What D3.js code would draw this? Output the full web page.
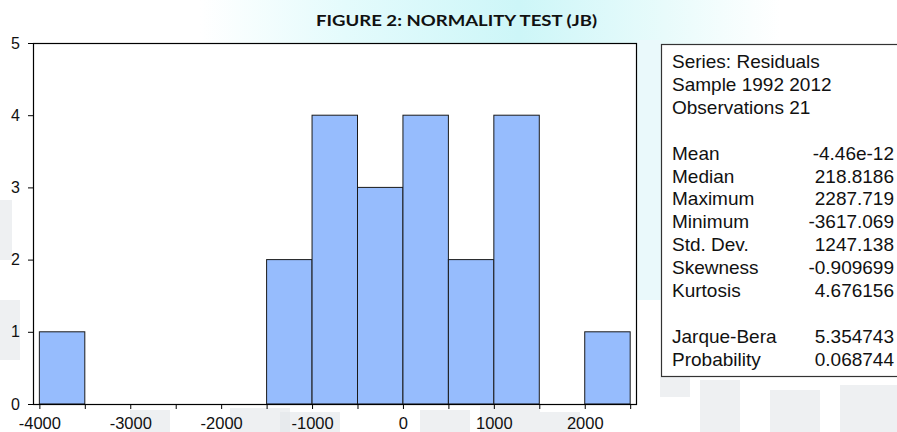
<!DOCTYPE html>
<html>
<head>
<meta charset="utf-8">
<script src="https://cdn.jsdelivr.net/npm/d3@7"></script>
<style>
  html, body { margin: 0; padding: 0; background: #ffffff; }
  svg { display: block; }
</style>
</head>
<body>
<div id="chart"></div>
<script>
// ---- data ----
const binEdges = [-4000, -3500, -3000, -2500, -2000, -1500, -1000, -500, 0, 500, 1000, 1500, 2000, 2500];
const counts   = [1, 0, 0, 0, 0, 2, 4, 3, 4, 2, 4, 0, 1];
const xTickValues = [-4000, -3500, -3000, -2500, -2000, -1500, -1000, -500, 0, 500, 1000, 1500, 2000, 2500];
const xTickLabels = [-4000, -3000, -2000, -1000, 0, 1000, 2000];
const yTickValues = [0, 1, 2, 3, 4, 5];
const statLabels = ["Series: Residuals", "Sample 1992 2012", "Observations 21", "",
  "Mean", "Median", "Maximum", "Minimum", "Std. Dev.", "Skewness", "Kurtosis", "",
  "Jarque-Bera", "Probability"];
const statValues = ["", "", "", "",
  "-4.46e-12", "218.8186", "2287.719", "-3617.069", "1247.138", "-0.909699", "4.676156", "",
  "5.354743", "0.068744"];
const title = "FIGURE 2: NORMALITY TEST (JB)";

// ---- layout ----
const W = 897, H = 432;
const plot = { left: 33, right: 637, top: 43, bottom: 404 };

const svg = d3.select("#chart").append("svg")
  .attr("width", W).attr("height", H)
  .attr("viewBox", `0 0 ${W} ${H}`);

// faint background decoration (scanned page texture)
const defs = svg.append("defs");
const g1 = defs.append("linearGradient").attr("id", "topband").attr("x1", 0).attr("x2", 1).attr("y1", 0).attr("y2", 0);
g1.append("stop").attr("offset", "0").attr("stop-color", "#ffffff");
g1.append("stop").attr("offset", "0.25").attr("stop-color", "#e4fbfc");
g1.append("stop").attr("offset", "0.55").attr("stop-color", "#cdf6f8");
g1.append("stop").attr("offset", "0.8").attr("stop-color", "#e8fbfb");
g1.append("stop").attr("offset", "1").attr("stop-color", "#ffffff");
svg.append("rect").attr("x", 200).attr("y", 0).attr("width", 580).attr("height", 44).attr("fill", "url(#topband)");
svg.append("rect").attr("x", 637).attr("y", 40).attr("width", 24).attr("height", 260).attr("fill", "#eaf9fb");
const grayBlocks = [[130,410,40,22],[230,408,60,24],[280,412,60,20],[420,410,50,22],[480,406,60,26],[540,412,40,20],[700,380,40,52],[770,390,50,42],[840,385,57,47],[0,200,12,60],[0,300,20,60],[660,377,30,20]];
svg.selectAll("rect.bg").data(grayBlocks).join("rect").attr("class", "bg")
  .attr("x", d => d[0]).attr("y", d => d[1]).attr("width", d => d[2]).attr("height", d => d[3])
  .attr("fill", "#e3e6ea").attr("opacity", 0.6);

const x = d3.scaleLinear().domain([-4070, 2575]).range([plot.left, plot.right]);
const y = d3.scaleLinear().domain([0, 5]).range([plot.bottom, plot.top]);

// plot area
svg.append("rect")
  .attr("x", plot.left).attr("y", plot.top)
  .attr("width", plot.right - plot.left).attr("height", plot.bottom - plot.top)
  .attr("fill", "#ffffff");

// bars
const bins = counts.map((c, i) => ({ x0: binEdges[i], x1: binEdges[i + 1], n: c })).filter(d => d.n > 0);
svg.append("g").selectAll("rect").data(bins).join("rect")
  .attr("x", d => x(d.x0))
  .attr("y", d => y(d.n))
  .attr("width", d => x(d.x1) - x(d.x0))
  .attr("height", d => y(0) - y(d.n))
  .attr("fill", "#96bcfd")
  .attr("stroke", "#1a1a1a")
  .attr("stroke-width", 1);

// frame
svg.append("rect")
  .attr("x", plot.left + 0.5).attr("y", plot.top + 0.5)
  .attr("width", plot.right - plot.left - 1).attr("height", plot.bottom - plot.top)
  .attr("fill", "none").attr("stroke", "#000").attr("stroke-width", 1.2);

// x axis
const xAxis = d3.axisBottom(x).tickValues(xTickValues).tickSize(5).tickPadding(8)
  .tickFormat(d => xTickLabels.includes(d) ? String(d) : "");
const gx = svg.append("g").attr("transform", `translate(0,${plot.bottom})`).call(xAxis);
gx.select(".domain").remove();
gx.selectAll("line").attr("stroke", "#000");
gx.selectAll("text").attr("font-family", "'Liberation Sans', Arial, sans-serif")
  .attr("font-size", 16.5).attr("fill", "#111").attr("dy", "0.71em");

// y axis
const yAxis = d3.axisLeft(y).tickValues(yTickValues).tickSize(5).tickPadding(8).tickFormat(d3.format("d"));
const gy = svg.append("g").attr("transform", `translate(${plot.left},0)`).call(yAxis);
gy.select(".domain").remove();
gy.selectAll("line").attr("stroke", "#000");
gy.selectAll("text").attr("font-family", "'Liberation Sans', Arial, sans-serif")
  .attr("font-size", 16).attr("fill", "#111");

// title
svg.append("text")
  .attr("x", 316).attr("y", 26)
  .attr("font-family", "Lato, 'Open Sans', sans-serif")
  .attr("font-weight", "bold").attr("font-size", 15)
  .attr("textLength", 281).attr("lengthAdjust", "spacingAndGlyphs")
  .attr("fill", "#111")
  .text(title);

// stats box
const box = { x: 661, y: 44, w: 260, h: 332 };
svg.append("rect").attr("x", box.x + 0.5).attr("y", box.y + 0.5)
  .attr("width", box.w).attr("height", box.h)
  .attr("fill", "#ffffff").attr("stroke", "#333").attr("stroke-width", 1.2);
const lineY = i => 68 + i * 22.9;
const st = svg.append("g").attr("font-family", "'Liberation Sans', Arial, sans-serif")
  .attr("font-size", 19).attr("fill", "#111");
st.selectAll("text.lab").data(statLabels).join("text").attr("class", "lab")
  .attr("x", 672).attr("y", (d, i) => lineY(i)).text(d => d);
st.selectAll("text.val").data(statValues).join("text").attr("class", "val")
  .attr("x", 894).attr("y", (d, i) => lineY(i)).attr("text-anchor", "end").text(d => d);
</script>
</body>
</html>
